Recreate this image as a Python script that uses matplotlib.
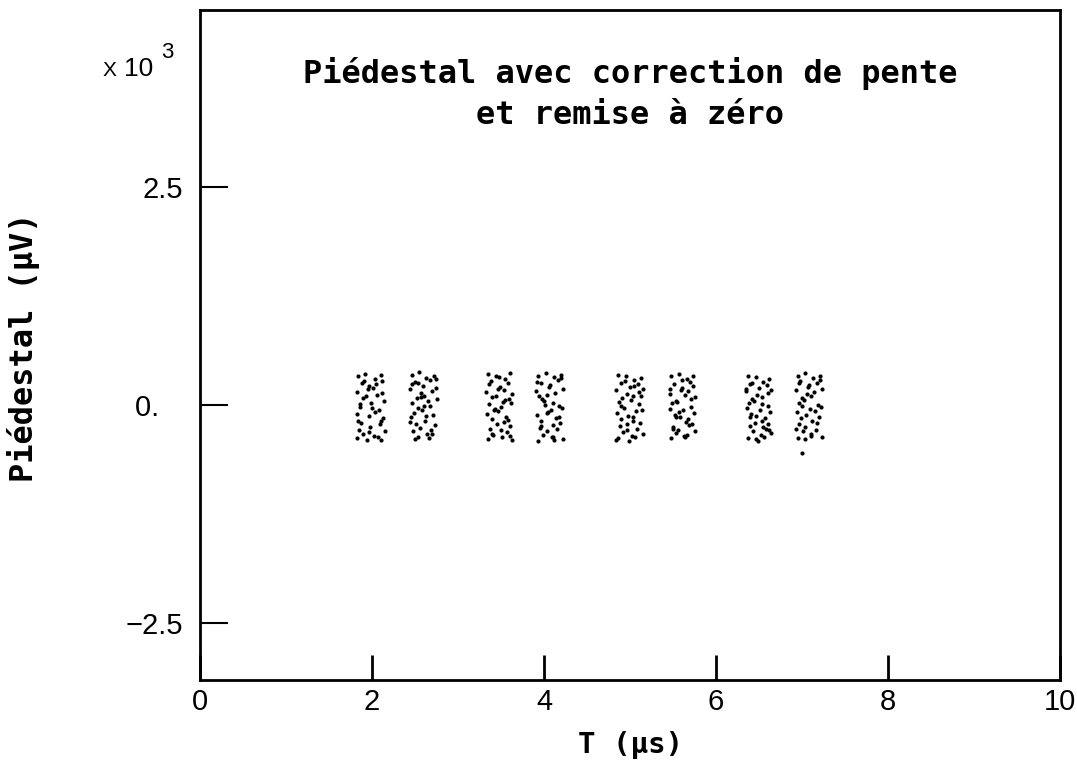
from matplotlib import pyplot as plt

# pedestal samples (x in microseconds, y in units of 1e3 microvolts), one group per burst
x1 = [1.84,1.92,2.03,2.10,1.88,1.97,2.12,1.83,1.95,2.06,1.90,2.01,2.14,1.86,1.99,2.08,1.82,1.93,2.04,2.13,
      1.87,1.96,2.09,1.85,1.98,2.11,1.89,2.02,2.15,1.83,1.94,2.07,1.91,2.00,2.12,1.86,1.97,2.05,1.84,2.10]
y1 = [0.33,0.36,0.30,0.35,0.25,0.22,0.28,0.15,0.18,0.12,0.08,0.20,0.05,-0.02,0.03,-0.05,-0.10,0.10,-0.08,-0.15,
      -0.20,-0.12,-0.22,-0.28,-0.25,-0.18,-0.33,-0.35,-0.30,-0.38,-0.40,-0.36,0.28,-0.03,0.14,0.01,-0.31,0.24,-0.18,-0.40]

x2 = [2.46,2.55,2.63,2.72,2.50,2.59,2.68,2.44,2.57,2.74,2.52,2.61,2.70,2.47,2.65,2.53,2.75,2.49,2.58,2.67,
      2.45,2.62,2.71,2.51,2.56,2.73,2.48,2.64,2.54,2.69,2.46,2.60,2.74,2.50,2.66,2.57,2.44,2.70,2.53,2.63]
y2 = [0.35,0.38,0.31,0.33,0.27,0.22,0.29,0.18,0.14,0.20,0.08,0.11,0.16,0.02,0.05,-0.03,0.07,-0.09,-0.06,-0.01,
      -0.14,-0.18,-0.11,-0.21,-0.26,-0.23,-0.30,-0.33,-0.36,-0.29,0.24,-0.01,0.30,-0.39,-0.38,0.09,-0.19,-0.33,0.26,-0.12]

x3 = [3.35,3.44,3.55,3.61,3.38,3.49,3.58,3.33,3.46,3.63,3.40,3.52,3.36,3.59,3.43,3.50,3.62,3.34,3.47,3.56,
      3.39,3.53,3.60,3.37,3.45,3.57,3.41,3.51,3.63,3.35,3.48,3.54,3.42,3.58,3.36,3.50,3.61,3.44,3.39,3.55]
y3 = [0.36,0.34,0.30,0.37,0.28,0.21,0.25,0.15,0.19,0.13,0.09,0.04,0.01,0.07,-0.04,-0.02,0.03,-0.10,-0.07,-0.13,
      -0.16,-0.19,-0.24,-0.27,-0.22,-0.31,-0.34,-0.37,-0.40,-0.39,0.32,0.17,-0.05,-0.17,0.24,-0.29,-0.35,0.11,-0.33,0.06]

x4 = [3.93,4.02,4.12,4.20,3.96,4.07,4.16,3.91,4.04,4.22,3.98,4.10,3.94,4.18,4.00,4.08,4.21,3.92,4.05,4.14,
      3.97,4.11,4.19,3.95,4.03,4.15,3.99,4.09,4.22,3.93,4.06,4.13,4.01,4.17,3.96,4.10,4.20,4.03,3.92,4.12]
y4 = [0.34,0.37,0.32,0.35,0.26,0.23,0.29,0.16,0.12,0.19,0.07,0.03,0.10,-0.01,0.05,-0.06,-0.03,-0.11,-0.08,-0.15,
      -0.18,-0.23,-0.20,-0.26,-0.30,-0.27,-0.34,-0.37,-0.39,-0.41,0.21,0.14,0.00,-0.13,-0.24,-0.36,0.31,-0.09,0.27,-0.40]

x5 = [4.86,4.95,5.05,5.13,4.89,5.00,5.09,4.84,4.97,5.15,4.91,5.03,4.87,5.11,4.93,5.01,5.14,4.85,4.98,5.07,
      4.90,5.04,5.12,4.88,4.96,5.08,4.92,5.02,5.15,4.86,4.99,5.06,4.94,5.10,4.89,5.03,5.13,4.96,4.84,5.05]
y5 = [0.35,0.33,0.29,0.31,0.26,0.21,0.24,0.17,0.13,0.18,0.08,0.10,0.04,0.01,-0.03,0.06,-0.05,-0.09,-0.12,-0.07,
      -0.16,-0.14,-0.20,-0.24,-0.21,-0.27,-0.31,-0.35,-0.33,-0.38,-0.41,-0.36,0.28,0.15,-0.01,-0.18,0.11,-0.29,-0.40,0.22]

x6 = [5.48,5.57,5.66,5.73,5.51,5.61,5.70,5.46,5.59,5.75,5.53,5.64,5.49,5.71,5.55,5.62,5.74,5.47,5.58,5.68,
      5.52,5.65,5.72,5.50,5.56,5.69,5.54,5.63,5.75,5.48,5.60,5.67,5.53,5.71,5.50,5.64,5.73,5.57,5.46,5.66]
y6 = [0.33,0.36,0.30,0.34,0.24,0.20,0.27,0.13,0.17,0.09,0.05,0.12,0.02,-0.02,0.04,-0.06,-0.09,-0.04,-0.13,-0.16,
      -0.11,-0.19,-0.22,-0.25,-0.28,-0.23,-0.32,-0.35,-0.30,-0.38,0.29,0.16,-0.14,0.07,-0.27,-0.37,0.22,-0.08,0.19,-0.34]

x7 = [6.37,6.46,6.55,6.62,6.40,6.50,6.59,6.35,6.48,6.64,6.42,6.53,6.38,6.60,6.44,6.51,6.63,6.36,6.47,6.57,
      6.41,6.54,6.61,6.39,6.45,6.58,6.43,6.52,6.64,6.37,6.49,6.56,6.42,6.60,6.39,6.53,6.62,6.46,6.35,6.55]
y7 = [0.34,0.32,0.27,0.30,0.24,0.20,0.23,0.16,0.12,0.17,0.07,0.09,0.03,-0.01,0.05,-0.05,-0.08,-0.03,-0.12,-0.15,
      -0.10,-0.18,-0.21,-0.24,-0.20,-0.27,-0.30,-0.34,-0.32,-0.38,-0.41,-0.36,0.26,0.14,-0.13,0.01,-0.29,-0.39,0.19,-0.25]

x8 = [6.95,7.04,7.13,7.21,6.98,7.08,7.17,6.93,7.06,7.23,7.00,7.11,6.96,7.19,7.02,7.09,7.22,6.94,7.05,7.15,
      6.99,7.12,7.20,6.97,7.03,7.16,7.01,7.10,7.23,6.95,7.07,7.14,7.00,7.18,6.97,7.11,7.21,7.04,6.93,7.00]
y8 = [0.33,0.37,0.31,0.34,0.28,0.23,0.26,0.17,0.13,0.19,0.08,0.11,0.03,0.00,0.06,-0.04,-0.02,-0.08,-0.11,-0.07,
      -0.15,-0.18,-0.14,-0.22,-0.25,-0.28,-0.30,-0.33,-0.36,-0.38,0.21,0.15,-0.01,-0.20,0.25,-0.35,0.29,-0.39,-0.27,-0.55]

groups = [(x1, y1), (x2, y2), (x3, y3), (x4, y4), (x5, y5), (x6, y6), (x7, y7), (x8, y8)]

x_ticks = [0, 2, 4, 6, 8, 10]
y_ticks = [-2.5, 0, 2.5]
# "0." is padded so its digits sit where a three-character label would
y_tick_labels = ["\u22122.5", "0.\u2007 ", "2.5"]

W, H = 1077, 764
fig = plt.figure(figsize=(W / 100, H / 100), dpi=100)
ax = fig.add_axes([200 / W, 1 - 680 / H, (1060 - 200) / W, (680 - 10) / H])

for gx, gy in groups:
    ax.scatter(gx, gy, s=9, c='black', marker='o', linewidths=0)

ax.set_xlim(0, 10)
ax.set_ylim(-3.15, 4.53)

for side in ['left', 'right', 'top', 'bottom']:
    ax.spines[side].set_linewidth(2.0)

ax.set_xticks(x_ticks)
ax.set_xticklabels([str(t) for t in x_ticks], fontsize=21, fontfamily='Liberation Sans')
ax.set_yticks(y_ticks)
ax.set_yticklabels(y_tick_labels, fontsize=21, fontfamily='Liberation Sans')
ax.tick_params(axis='x', direction='in', length=18, width=2, pad=6, top=False)
ax.tick_params(axis='y', direction='in', length=20, width=1.5, pad=12, right=False)

mono = 'DejaVu Sans Mono'
ax.text(0.5, 0.905, "Piédestal avec correction de pente", transform=ax.transAxes,
        ha='center', va='center', fontsize=23, fontweight='bold', fontfamily=mono)
ax.text(0.5, 0.843, "et remise à zéro", transform=ax.transAxes,
        ha='center', va='center', fontsize=23, fontweight='bold', fontfamily=mono)

# axis titles placed directly in figure pixels
fig.text(630 / W, 1 - 745 / H, "T (µs)", fontsize=21, fontweight='bold', fontfamily=mono,
         ha='center', va='center')
fig.text(24 / W, 1 - 347 / H, "Piédestal (µV)", fontsize=23, fontweight='bold', fontfamily=mono,
         ha='center', va='center', rotation=90)

# exponent of the y axis
fig.text(103 / W, 1 - 76 / H, "X", fontsize=15, fontfamily='Liberation Sans', ha='left', va='baseline')
fig.text(124 / W, 1 - 76 / H, "10", fontsize=19, fontfamily='Liberation Sans', ha='left', va='baseline')
fig.text(161 / W, 1 - 58 / H, "3", fontsize=16, fontfamily='Liberation Sans', ha='left', va='baseline')

fig.savefig("out.png", dpi=100)
